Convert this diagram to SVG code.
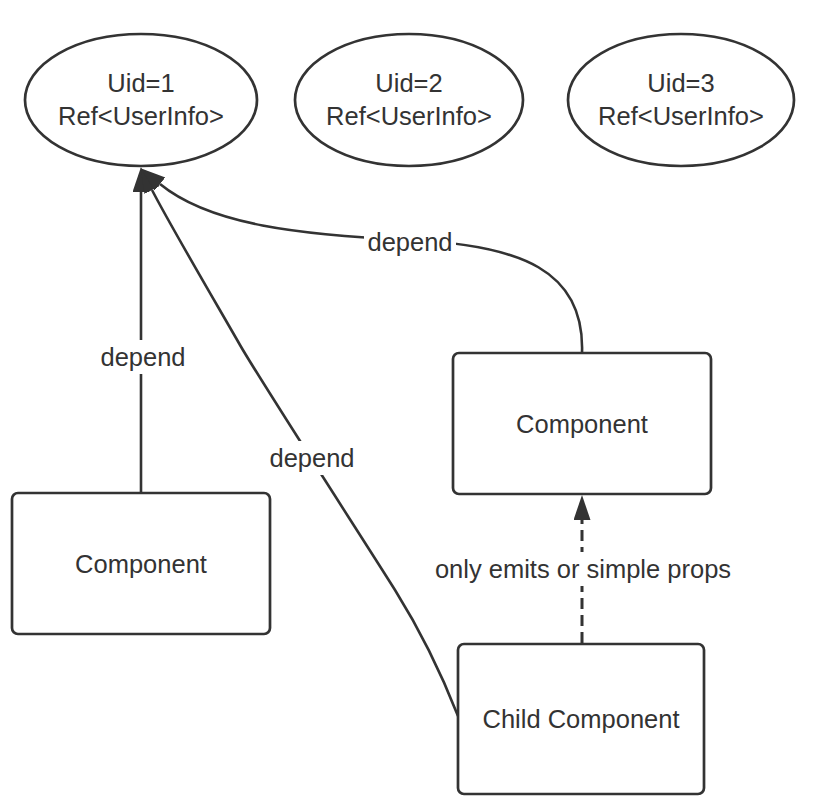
<svg xmlns="http://www.w3.org/2000/svg" width="824" height="810" viewBox="0 0 824 810">
<style>
.node{fill:#fff;stroke:#333;stroke-width:2.7}
.edge{fill:none;stroke:#333;stroke-width:2.6}
.dash{stroke-width:3;stroke-dasharray:11 6}
text{font-family:"Liberation Sans",Arial,sans-serif;font-size:25.5px;fill:#333;text-anchor:middle}
.lbg{fill:#fff;stroke:none}
</style>
<defs>
<marker id="arr" markerUnits="userSpaceOnUse" markerWidth="26" markerHeight="18" refX="0" refY="8.5" orient="auto" viewBox="0 0 26 18">
<path d="M0,0 L25,8.5 L0,17 z" fill="#333"/>
</marker>
</defs>
<rect width="824" height="810" fill="#fff"/>
<g id="connectors">
<path class="edge" d="M141,492 L141,192" marker-end="url(#arr)"/>
<path class="edge" d="M458,716 C440,670 420,630 395,590 S260,380 240,345 S170,225 152,190" marker-end="url(#arr)"/>
<path class="edge" d="M582,353 C585,270 520,245 410,240 C300,235 210,225 160,184" marker-end="url(#arr)"/>
<path class="edge dash" d="M582,643 L582,520" marker-end="url(#arr)"/>
<g id="labels">
<rect class="lbg" x="97" y="340" width="92" height="34"/>
<text x="143" y="366">depend</text>
<rect class="lbg" x="266" y="441" width="92" height="34"/>
<text x="312" y="467">depend</text>
<rect class="lbg" x="364" y="226" width="92" height="34"/>
<text x="410" y="251">depend</text>
<rect class="lbg" x="430" y="552" width="306" height="34"/>
<text x="583" y="578">only emits or simple props</text>
</g>
</g>
<g id="uid1">
<ellipse class="node" cx="141" cy="100" rx="116" ry="66"/>
<text x="141" y="92">Uid=1</text>
<text x="141" y="125">Ref&lt;UserInfo&gt;</text>
</g>
<g id="uid2">
<ellipse class="node" cx="409" cy="100" rx="114" ry="66"/>
<text x="409" y="92">Uid=2</text>
<text x="409" y="125">Ref&lt;UserInfo&gt;</text>
</g>
<g id="uid3">
<ellipse class="node" cx="681" cy="100" rx="113" ry="66"/>
<text x="681" y="92">Uid=3</text>
<text x="681" y="125">Ref&lt;UserInfo&gt;</text>
</g>
<g id="componentRight">
<rect class="node" x="453" y="353" width="258" height="141" rx="6"/>
<text x="582" y="433">Component</text>
</g>
<g id="componentLeft">
<rect class="node" x="12" y="493" width="258" height="141" rx="6"/>
<text x="141" y="573">Component</text>
</g>
<g id="childComponent">
<rect class="node" x="458" y="644" width="246" height="150" rx="6"/>
<text x="581" y="728">Child Component</text>
</g>
</svg>
